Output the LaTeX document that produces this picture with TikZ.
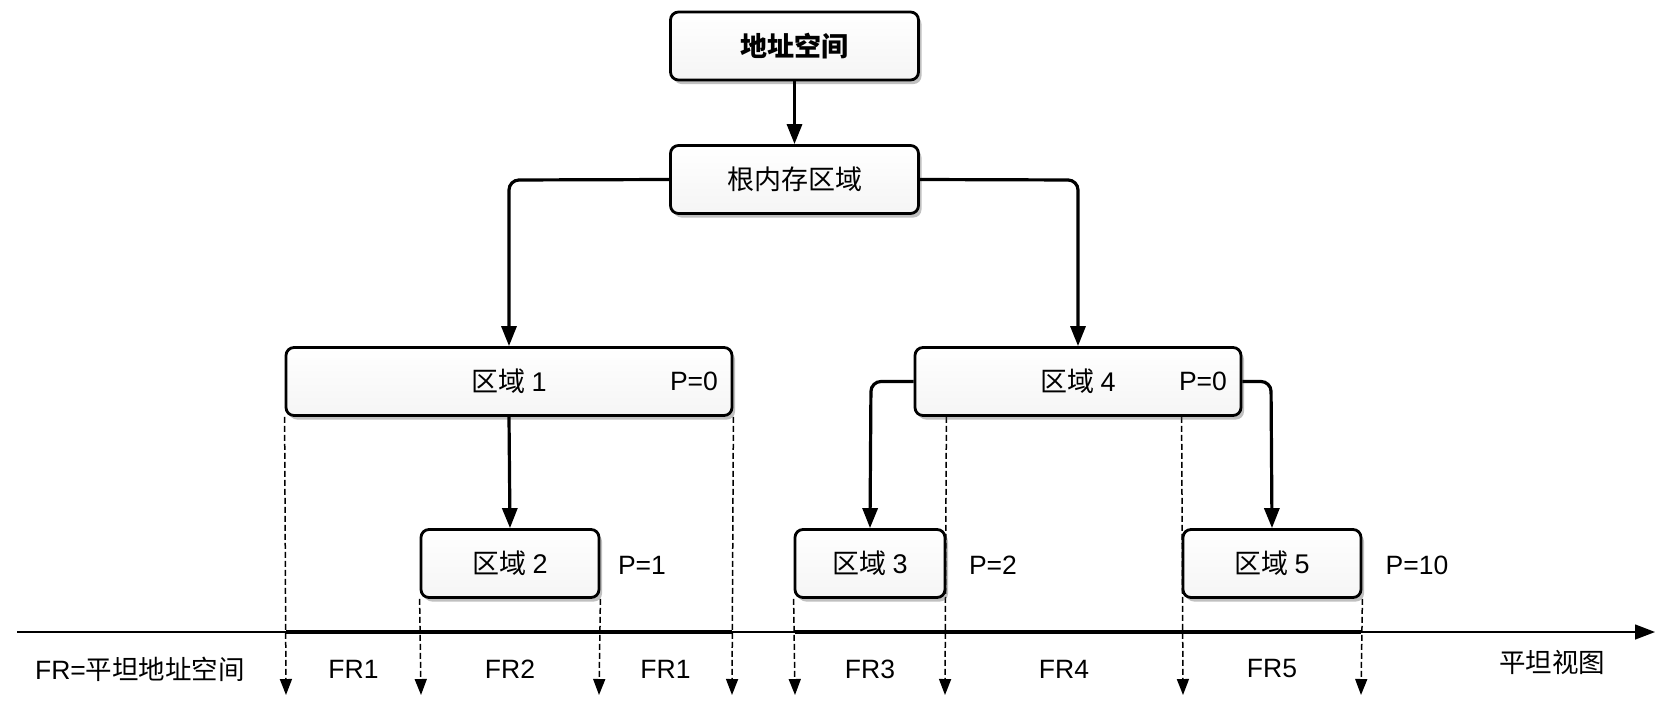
\documentclass[tikz,border=0pt]{standalone}
\usepackage{fontspec}
\setmainfont{Liberation Sans}
\newfontfamily\cjk{Noto Sans CJK SC}
\usetikzlibrary{arrows.meta,shadows,backgrounds}
\begin{document}
\begin{tikzpicture}[x=1pt,y=-1pt,
  box/.style={draw=black, line width=2.8pt, rounded corners=8pt,
    top color=white, bottom color=black!4, inner sep=0pt,
    minimum height=68pt, font=\fontsize{27}{30}\selectfont,
    drop shadow={shadow xshift=3pt, shadow yshift=-4pt, opacity=0.35, fill=black!70}},
  conn/.style={line width=3.2pt, rounded corners=10pt, -{Triangle[length=20pt,width=15pt]}},
  proj/.style={line width=1.5pt, dash pattern=on 6pt off 3pt, -{Triangle[length=16pt,width=12pt]}},
  lbl/.style={font=\fontsize{26.5}{30}\selectfont, inner sep=0pt, anchor=center}]
\useasboundingbox (0,0) rectangle (1674,716);

% boxes
\node[box, minimum width=248pt] (top) at (794.5,46) {\cjk\bfseries 地址空间};
\node[box, minimum width=248pt] (root) at (794.5,179.5) {\cjk 根内存区域};
\node[box, minimum width=446pt] (r1) at (509,381.5) {\cjk 区域\ \normalfont 1};
\node[box, minimum width=178pt] (r2) at (510,563.5) {\cjk 区域\ \normalfont 2};
\node[box, minimum width=150pt] (r3) at (870,563.5) {\cjk 区域\ \normalfont 3};
\node[box, minimum width=326pt] (r4) at (1078,381.5) {\cjk 区域\ \normalfont 4};
\node[box, minimum width=178pt] (r5) at (1272,563.5) {\cjk 区域\ \normalfont 5};

% priority labels
\node[lbl] (p1) at (694,381.5) {P=0};
\node[lbl] (p4) at (1203,381.5) {P=0};
\node[lbl] (p2) at (642,565) {P=1};
\node[lbl] (p3) at (993,565) {P=2};
\node[lbl] (p5) at (1417,565) {P=10};

% connectors
\draw[conn] (top.south) -- (root.north);
\draw[conn] (root.west) -- (509,180) -- (r1.north);
\draw[conn] (root.east) -- (1078,180) -- (r4.north);
\draw[conn] (r1.south) -- (r2.north);
\draw[conn] (r4.west) -- (871,381.5) -- (r3.north);
\draw[conn] (r4.east) -- (1271,381.5) -- (r5.north);

% axis
\coordinate (ax0) at (17,632);
\coordinate (ax1) at (1655,632);
\coordinate (e1) at (286,695);
\coordinate (e2) at (421,695);
\coordinate (e3) at (599,695);
\coordinate (e4) at (732,695);
\coordinate (e5) at (795,695);
\coordinate (e6) at (945,695);
\coordinate (e7) at (1183,695);
\coordinate (e8) at (1361,695);

\begin{scope}[on background layer]
\fill[white] (0,0) rectangle (1674,716);
\draw[line width=1.4pt, -{Triangle[length=20pt,width=15pt]}] (ax0) -- (ax1);
\draw[line width=4.5pt] (e1 |- ax0) -- (e4 |- ax0);
\draw[line width=4.5pt] (e5 |- ax0) -- (e8 |- ax0);
\draw[proj] (r1.south west) -- (e1);
\draw[proj] (r2.south west) -- (e2);
\draw[proj] (r2.south east) -- (e3);
\draw[proj] (r1.south east) -- (e4);
\draw[proj] (r3.south west) -- (e5);
\draw[proj] (r3.east |- r4.south) -- (e6);
\draw[proj] (r5.west |- r4.south) -- (e7);
\draw[proj] (r5.south east) -- (e8);
\end{scope}

% FR labels
\node[lbl] (fr1) at (353.5,669) {FR1};
\node[lbl] (fr2) at (510,669) {FR2};
\node[lbl] (fr1b) at (665.5,669) {FR1};
\node[lbl] (fr3) at (870,669) {FR3};
\node[lbl] (fr4) at (1064,669) {FR4};
\node[lbl] (fr5) at (1272,669) {FR5};
\node[lbl] (frdef) at (140,669) {FR=\cjk 平坦地址空间};
\node[lbl] (flat) at (1552,662) {\cjk 平坦视图};
\end{tikzpicture}
\end{document}
